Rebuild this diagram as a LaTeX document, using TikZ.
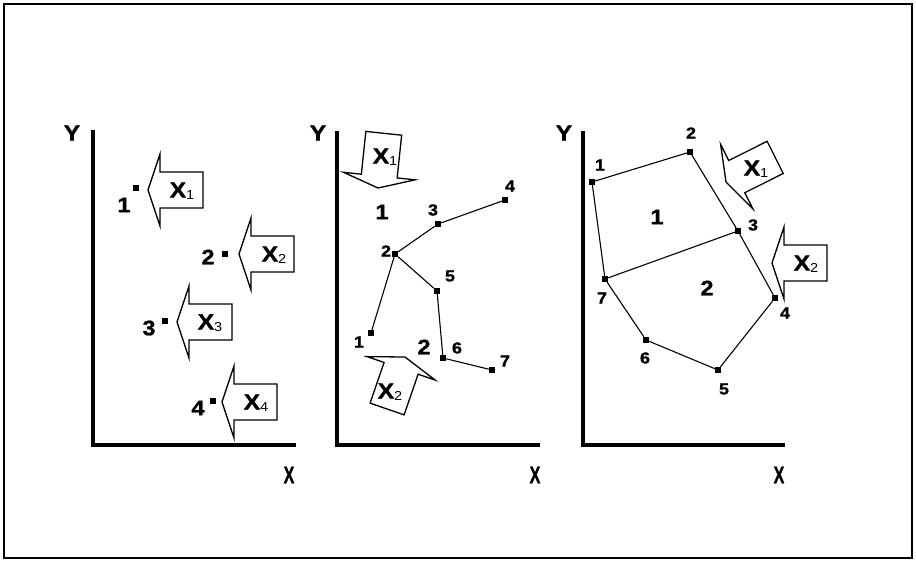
\documentclass[tikz,border=0pt]{standalone}
\usepackage{fontspec}
\setmainfont{Liberation Sans}
\newfontfamily\hv{Liberation Sans}[FakeStretch=1.12, BoldFeatures={FakeBold=1.2}]
\newcommand\mysub[1]{\raisebox{-2pt}{\fontsize{13}{13}\selectfont\mdseries #1}}
\begin{document}
\begin{tikzpicture}[x=1pt,y=-1pt,
  frame/.style={line width=1.8pt},
  axis/.style={line width=3.8pt, line cap=rect},
  pt/.style={rectangle, fill=black, minimum size=6pt, inner sep=0pt},
  edge/.style={line width=1.1pt},
  axlbl/.style={font=\hv\bfseries\fontsize{22}{22}\selectfont, inner sep=0pt},
  xlbl/.style={font=\hv\bfseries\fontsize{24}{24}\selectfont, inner sep=0pt, xscale=0.6},
  bignum/.style={font=\hv\bfseries\fontsize{21}{21}\selectfont, inner sep=0pt},
  smallnum/.style={font=\hv\bfseries\fontsize{16}{16}\selectfont, inner sep=0pt},
  regnum/.style={font=\hv\bfseries\fontsize{21}{21}\selectfont, inner sep=0pt},
  arrtxt/.style={font=\hv\bfseries\fontsize{22}{22}\selectfont, inner sep=0pt},
  fatarrow/.pic={\draw[line width=1.3pt, line join=miter, fill=white]
     (0,0) -- (12,-36) -- (12,-18) -- (55,-18) -- (55,18) -- (12,18) -- (12,36) -- cycle;}
]
\useasboundingbox (0,0) rectangle (916,562);
\draw[frame] (4,4) rectangle (912,558);

% ---------- panel 1 ----------
\coordinate (p1top) at (93,132);
\coordinate (p1org) at (93,445);
\coordinate (p1end) at (294,445);
\draw[axis] (p1top) -- (p1org) -- (p1end);
\node[axlbl] (p1y) at (72,133) {Y};
\node[xlbl] (p1x) at (289,475) {X};

\node[pt] (a1) at (136,188) {};
\node[pt] (a2) at (225,254) {};
\node[pt] (a3) at (165,321) {};
\node[pt] (a4) at (213,401) {};
\node[bignum] (la1) at (124,205) {1};
\node[bignum] (la2) at (208,257) {2};
\node[bignum] (la3) at (149,328) {3};
\node[bignum] (la4) at (198,408) {4};

\pic at (148,190) {fatarrow};
\pic at (239,254) {fatarrow};
\pic at (177,322) {fatarrow};
\pic at (222,402) {fatarrow};
\node[arrtxt] (ta1) at (182,191) {X\mysub{1}};
\node[arrtxt] (ta2) at (274,255) {X\mysub{2}};
\node[arrtxt] (ta3) at (210,323) {X\mysub{3}};
\node[arrtxt] (ta4) at (256,403) {X\mysub{4}};

% ---------- panel 2 ----------
\coordinate (p2top) at (337,133);
\coordinate (p2org) at (337,445);
\coordinate (p2end) at (538,445);
\draw[axis] (p2top) -- (p2org) -- (p2end);
\node[axlbl] (p2y) at (318,133) {Y};
\node[xlbl] (p2x) at (535,475) {X};

\node[pt] (b1) at (371,333) {};
\node[pt] (b2) at (395,254) {};
\node[pt] (b3) at (438,224) {};
\node[pt] (b4) at (505,200) {};
\node[pt] (b5) at (437,291) {};
\node[pt] (b6) at (443,358) {};
\node[pt] (b7) at (492,370) {};
\draw[edge] (b1) -- (b2) -- (b3) -- (b4);
\draw[edge] (b2) -- (b5) -- (b6) -- (b7);
\node[smallnum] (lb1) at (359,342) {1};
\node[smallnum] (lb2) at (386,251) {2};
\node[smallnum] (lb3) at (433,210) {3};
\node[smallnum] (lb4) at (510,186) {4};
\node[smallnum] (lb5) at (450,276) {5};
\node[smallnum] (lb6) at (457,348) {6};
\node[smallnum] (lb7) at (505,361) {7};
\node[regnum] (rb1) at (382,212) {1};
\node[regnum] (rb2) at (424,347) {2};

\pic[rotate=84] at (378,188) {fatarrow};
\pic[rotate=-109] at (405,357) {fatarrow};
\node[arrtxt] (tb1) at (385,157) {X\mysub{1}};
\node[arrtxt] (tb2) at (390,392) {X\mysub{2}};

% ---------- panel 3 ----------
\coordinate (p3top) at (583,133);
\coordinate (p3org) at (583,445);
\coordinate (p3end) at (783,445);
\draw[axis] (p3top) -- (p3org) -- (p3end);
\node[axlbl] (p3y) at (564,133) {Y};
\node[xlbl] (p3x) at (779,475) {X};

\node[pt] (c1) at (592,182) {};
\node[pt] (c2) at (690,152) {};
\node[pt] (c3) at (738,231) {};
\node[pt] (c4) at (775,298) {};
\node[pt] (c5) at (718,370) {};
\node[pt] (c6) at (646,340) {};
\node[pt] (c7) at (605,279) {};
\draw[edge] (c1) -- (c2) -- (c3) -- (c4) -- (c5) -- (c6) -- (c7) -- (c1);
\draw[edge] (c7) -- (c3);
\node[smallnum] (lc1) at (600,165) {1};
\node[smallnum] (lc2) at (691,133) {2};
\node[smallnum] (lc3) at (753,225) {3};
\node[smallnum] (lc4) at (785,313) {4};
\node[smallnum] (lc5) at (724,389) {5};
\node[smallnum] (lc6) at (645,358) {6};
\node[smallnum] (lc7) at (602,298) {7};
\node[regnum] (rc1) at (657,217) {1};
\node[regnum] (rc2) at (707,288) {2};

\pic[rotate=26.6] at (726,182) {fatarrow};
\pic at (772,263) {fatarrow};
\node[arrtxt] (tc1) at (756,169) {X\mysub{1}};
\node[arrtxt] (tc2) at (806,264) {X\mysub{2}};
\end{tikzpicture}
\end{document}
